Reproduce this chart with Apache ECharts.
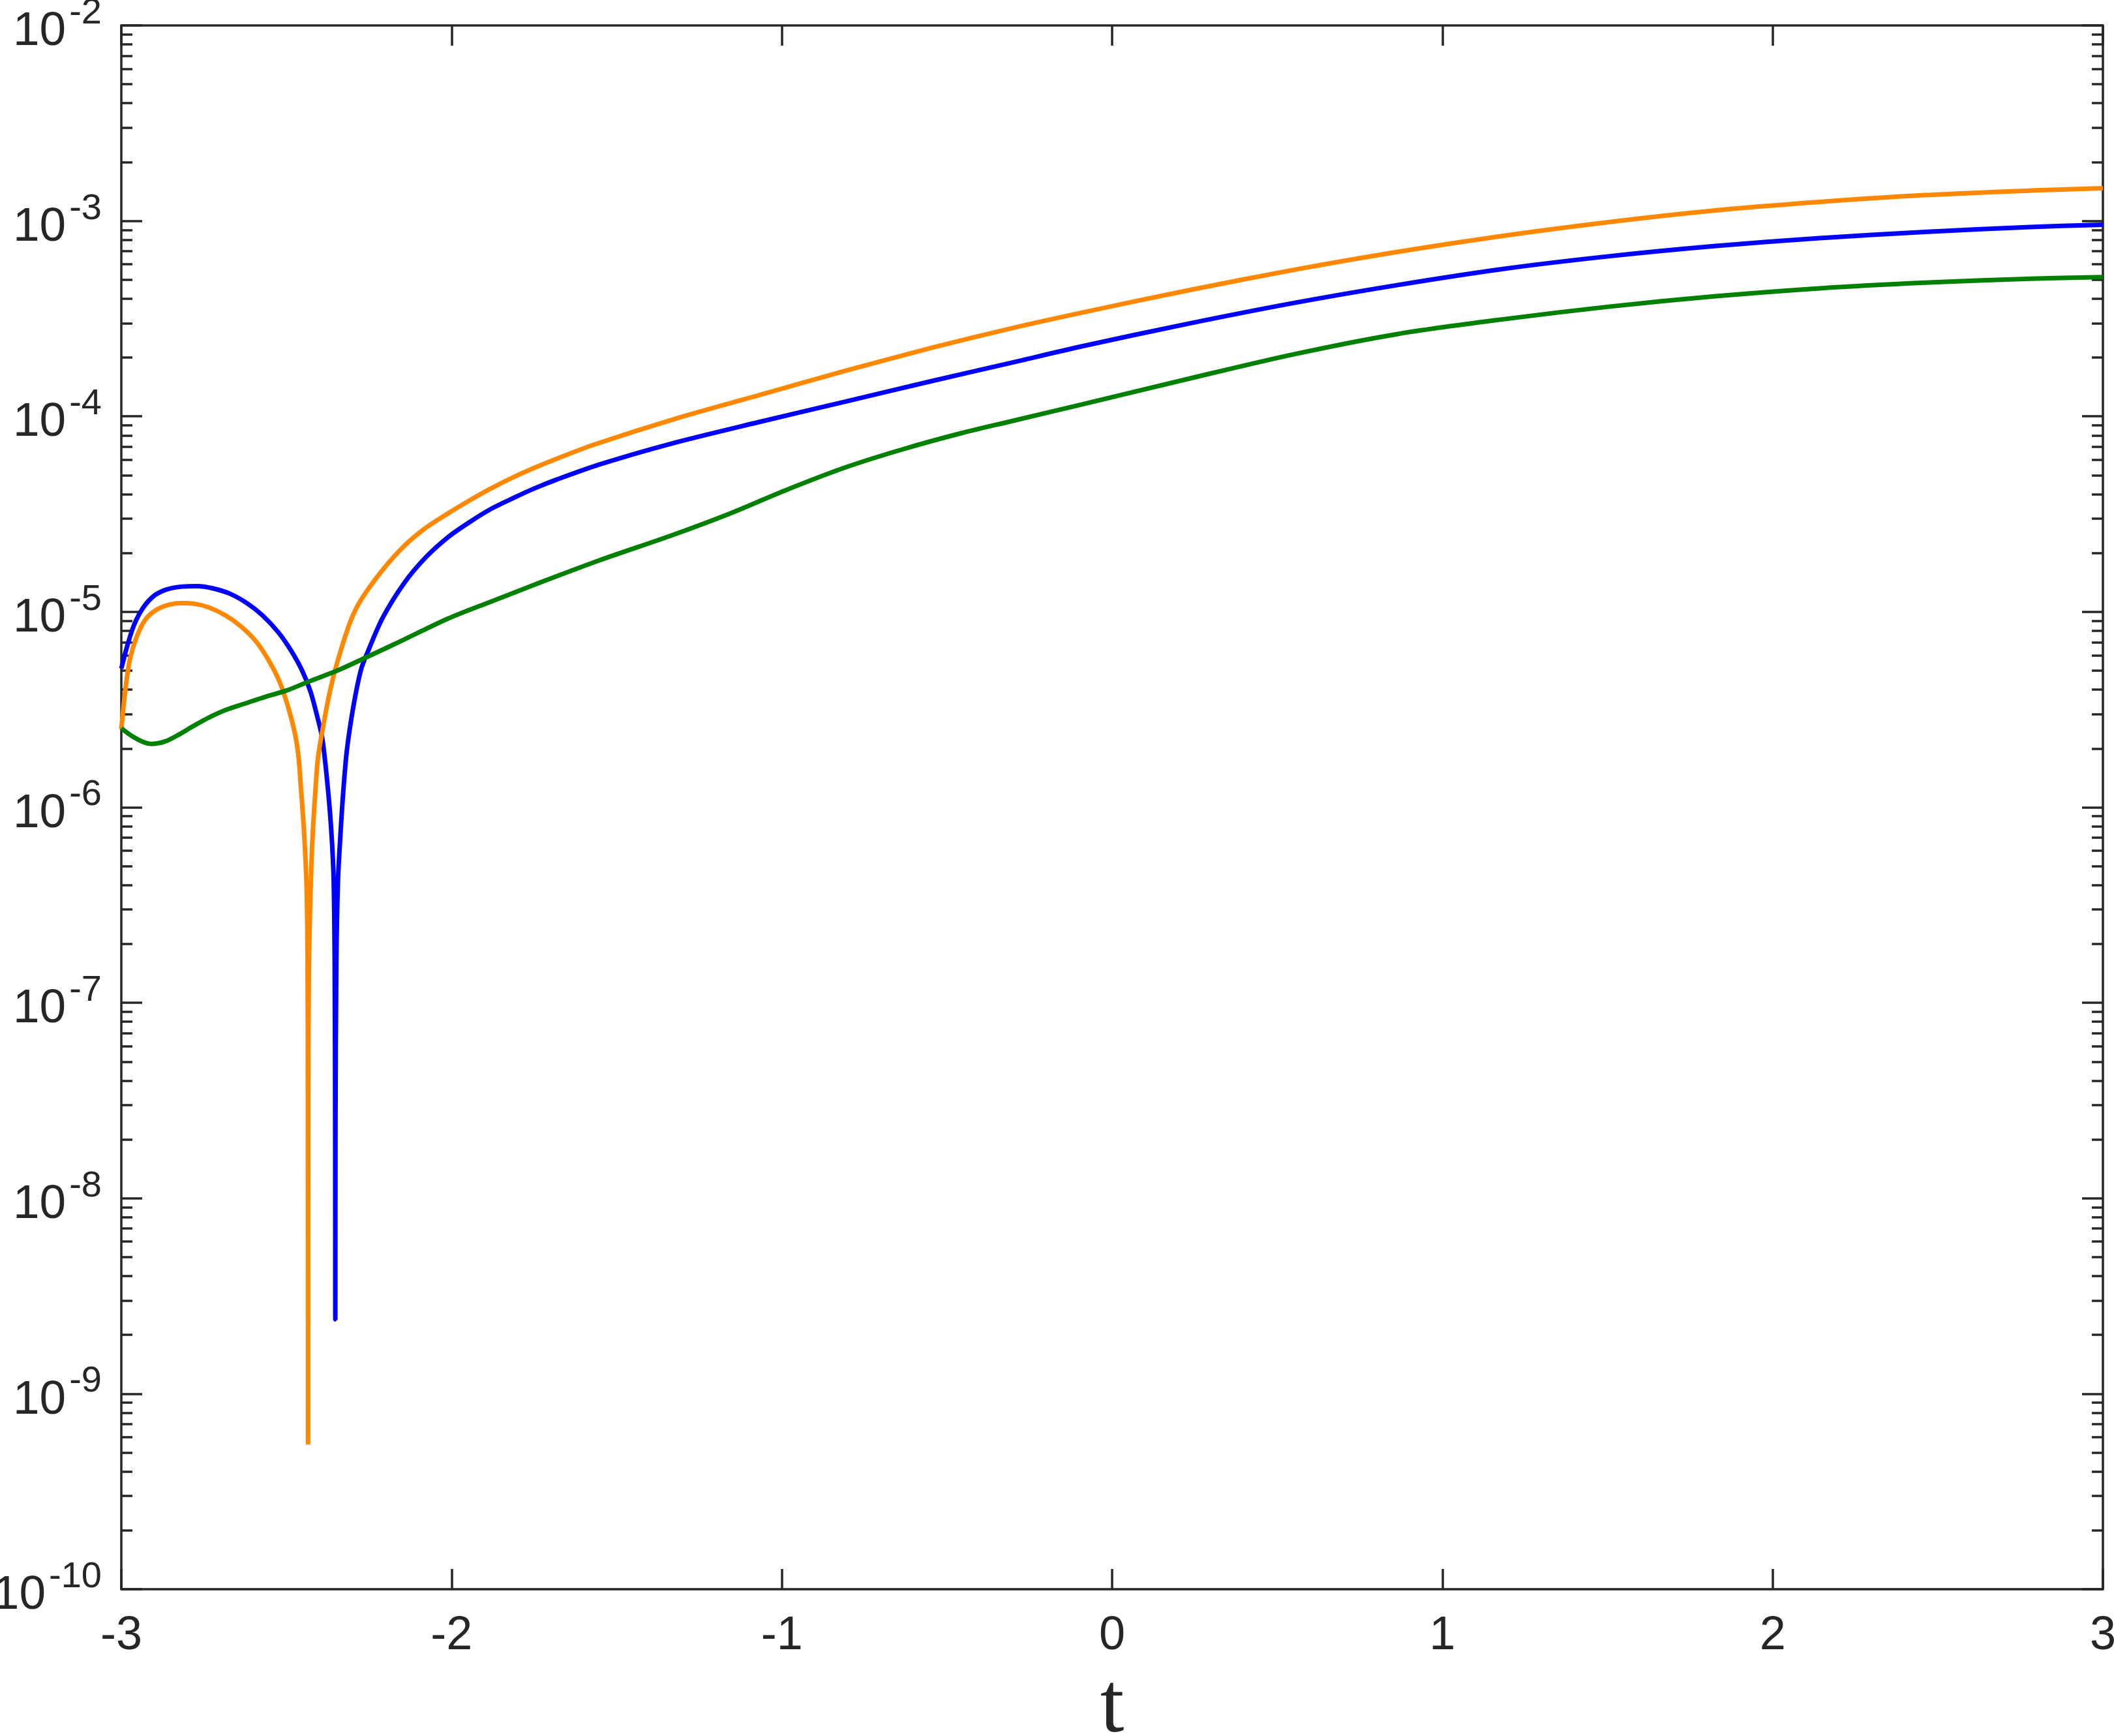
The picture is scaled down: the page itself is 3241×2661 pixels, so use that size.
<!DOCTYPE html>
<html>
<head>
<meta charset="utf-8">
<script src="https://cdn.jsdelivr.net/npm/echarts@6/dist/echarts.min.js"></script>
<style>
html, body { margin: 0; padding: 0; background: #ffffff; }
#c { width: 3241px; height: 2661px; }
</style>
</head>
<body>
<div id="c"></div>
<script>
// ---- data ----
const xTickValues = [-3, -2, -1, 0, 1, 2, 3];

const tBlue = [-3.000,-2.9802,-2.9605,-2.9342,-2.9012,-2.8617,-2.8157,-2.7696,-2.7235,-2.6708,-2.6181,-2.5721,-2.5260,-2.4865,-2.4536,-2.4272,-2.4075,-2.3910,-2.373,-2.363,-2.357,-2.354,-2.3525,-2.352,-2.3515,-2.349,-2.344,-2.337,-2.3285,-2.317,-2.2975,-2.2745,-2.2548,-2.2086,-2.1428,-2.077,-2.011,-1.9453,-1.8795,-1.8136,-1.7478,-1.682,-1.5503,-1.337,-1.072,-0.808,-0.543,-0.306,-0.093,0.226,0.545,0.865,1.184,1.503,1.822,2.142,2.461,2.780,3.000];
const vBlue = [5.13e-6,6.87e-6,8.65e-6,1.048e-5,1.207e-5,1.303e-5,1.347e-5,1.354e-5,1.320e-5,1.238e-5,1.103e-5,9.58e-6,7.91e-6,6.36e-6,5.05e-6,3.91e-6,2.95e-6,2.23e-6,1.17e-6,7.03e-7,4.21e-7,1.58e-7,2.5e-8,2.4e-9,2.5e-8,1.58e-7,4.21e-7,7.03e-7,1.17e-6,1.96e-6,3.27e-6,5.05e-6,6.19e-6,9.33e-6,1.41e-5,1.91e-5,2.41e-5,2.88e-5,3.37e-5,3.82e-5,4.29e-5,4.75e-5,5.69e-5,7.24e-5,9.33e-5,1.19e-4,1.52e-4,1.88e-4,2.28e-4,2.97e-4,3.79e-4,4.70e-4,5.68e-4,6.59e-4,7.43e-4,8.17e-4,8.79e-4,9.31e-4,9.55e-4];

const tOrange = [-3.000,-2.9868,-2.9737,-2.9539,-2.9276,-2.8947,-2.8552,-2.8157,-2.7827,-2.7367,-2.6840,-2.6379,-2.5918,-2.5523,-2.5194,-2.4931,-2.4733,-2.4634,-2.4575,-2.447,-2.439,-2.436,-2.435,-2.4345,-2.434,-2.432,-2.426,-2.421,-2.413,-2.4042,-2.3844,-2.368,-2.347,-2.307,-2.2745,-2.2086,-2.1428,-2.077,-2.011,-1.9453,-1.8795,-1.8136,-1.7478,-1.682,-1.570,-1.319,-1.072,-0.808,-0.543,-0.306,-0.093,0.226,0.545,0.865,1.184,1.503,1.822,2.142,2.461,2.780,3.000];
const vOrange = [2.51e-6,4.12e-6,5.74e-6,7.42e-6,9.11e-6,1.022e-5,1.089e-5,1.109e-5,1.103e-5,1.056e-5,9.58e-6,8.43e-6,7.05e-6,5.59e-6,4.33e-6,3.18e-6,2.34e-6,1.81e-6,1.35e-6,7.6e-7,3.9e-7,1.6e-7,3e-8,5.5e-10,3e-8,1.58e-7,4.21e-7,7.03e-7,1.17e-6,1.81e-6,2.85e-6,3.94e-6,5.46e-6,8.87e-6,1.15e-5,1.64e-5,2.18e-5,2.70e-5,3.19e-5,3.72e-5,4.29e-5,4.88e-5,5.47e-5,6.07e-5,7.16e-5,9.77e-5,1.28e-4,1.71e-4,2.25e-4,2.82e-4,3.39e-4,4.40e-4,5.60e-4,6.95e-4,8.39e-4,9.86e-4,1.13e-3,1.25e-3,1.355e-3,1.43e-3,1.47e-3];

const tGreen = [-3.000,-2.9671,-2.9342,-2.9078,-2.8683,-2.8288,-2.7827,-2.7367,-2.6840,-2.6247,-2.5655,-2.4996,-2.4338,-2.3482,-2.2548,-2.1428,-2.011,-1.8795,-1.7478,-1.5503,-1.337,-1.160,-0.984,-0.808,-0.631,-0.455,-0.306,-0.093,0.226,0.545,0.865,1.184,1.503,1.822,2.142,2.461,2.780,3.000];
const vGreen = [2.54e-6,2.31e-6,2.16e-6,2.11e-6,2.17e-6,2.34e-6,2.60e-6,2.87e-6,3.15e-6,3.40e-6,3.67e-6,3.96e-6,4.39e-6,4.99e-6,5.89e-6,7.23e-6,9.23e-6,1.13e-5,1.38e-5,1.84e-5,2.45e-5,3.17e-5,4.22e-5,5.48e-5,6.81e-5,8.22e-5,9.44e-5,1.15e-4,1.55e-4,2.07e-4,2.64e-4,3.14e-4,3.64e-4,4.11e-4,4.52e-4,4.83e-4,5.06e-4,5.16e-4];

const yMin = 1e-10;
const yMax = 1e-2;
const xLabel = 't';

// ---- chart ----
const fontSans = 'Liberation Sans';
const fontSerif = 'Liberation Serif';
const axisColor = '#262626';
const pairs = (ts, vs) => ts.map((t, i) => [t, vs[i]]);

const chart = echarts.init(document.getElementById('c'), null, { renderer: 'canvas', width: 3241, height: 2661 });

function supLabel(v) {
  const e = Math.round(Math.log10(v));
  return '{b|10}{s|' + e + '}';
}

function yAxisDef(pos, showLabel) {
  return {
    type: 'log', logBase: 10, min: yMin, max: yMax, splitNumber: 8, position: pos,
    axisLine: { show: true, onZero: false, lineStyle: { color: axisColor, width: 3.5 } },
    axisTick: { show: true, inside: true, length: 32, lineStyle: { color: axisColor, width: 3.5 } },
    minorTick: { show: true, splitNumber: 9, length: 17, lineStyle: { color: axisColor, width: 3.5 } },
    splitLine: { show: false }, minorSplitLine: { show: false },
    axisLabel: {
      show: showLabel, margin: 30, formatter: supLabel, fontFamily: fontSans, fontSize: 73, color: axisColor,
      rich: {
        b: { fontSize: 73, fontFamily: fontSans, color: axisColor, verticalAlign: 'bottom', padding: [20, 0, 0, 0] },
        s: { fontSize: 56, fontFamily: fontSans, color: axisColor, verticalAlign: 'top', padding: [0, 0, 0, 5] }
      }
    }
  };
}

function xAxisDef(pos, showLabel) {
  return {
    type: 'value', min: xTickValues[0], max: xTickValues[xTickValues.length - 1], interval: 1, position: pos,
    axisLine: { show: true, onZero: false, lineStyle: { color: axisColor, width: 3.5 } },
    axisTick: { show: true, inside: true, length: 31, lineStyle: { color: axisColor, width: 3.5 } },
    splitLine: { show: false },
    axisLabel: { show: showLabel, margin: 36, fontSize: 72, fontFamily: fontSans, color: axisColor }
  };
}

const xBottom = xAxisDef('bottom', true);
xBottom.name = xLabel;
xBottom.nameLocation = 'middle';
xBottom.nameGap = 117;
xBottom.nameTextStyle = { fontFamily: fontSerif, fontSize: 132, color: axisColor };

function lineSeries(name, ts, vs, color) {
  return {
    name: name, type: 'line', xAxisIndex: 0, yAxisIndex: 0,
    data: pairs(ts, vs), showSymbol: false, symbol: 'none',
    smooth: 0.3,
    lineStyle: { color: color, width: 7 },
    itemStyle: { color: color },
    emphasis: { disabled: true }
  };
}

chart.setOption({
  animation: false,
  backgroundColor: '#ffffff',
  grid: { left: 186, right: 17, top: 39, bottom: 225, containLabel: false, outerBoundsMode: 'none' },
  xAxis: [xBottom, xAxisDef('top', false)],
  yAxis: [yAxisDef('left', true), yAxisDef('right', false)],
  series: [
    lineSeries('blue', tBlue, vBlue, '#0000ff'),
    lineSeries('orange', tOrange, vOrange, '#ff8800'),
    lineSeries('green', tGreen, vGreen, '#008000')
  ]
});
</script>
</body>
</html>
